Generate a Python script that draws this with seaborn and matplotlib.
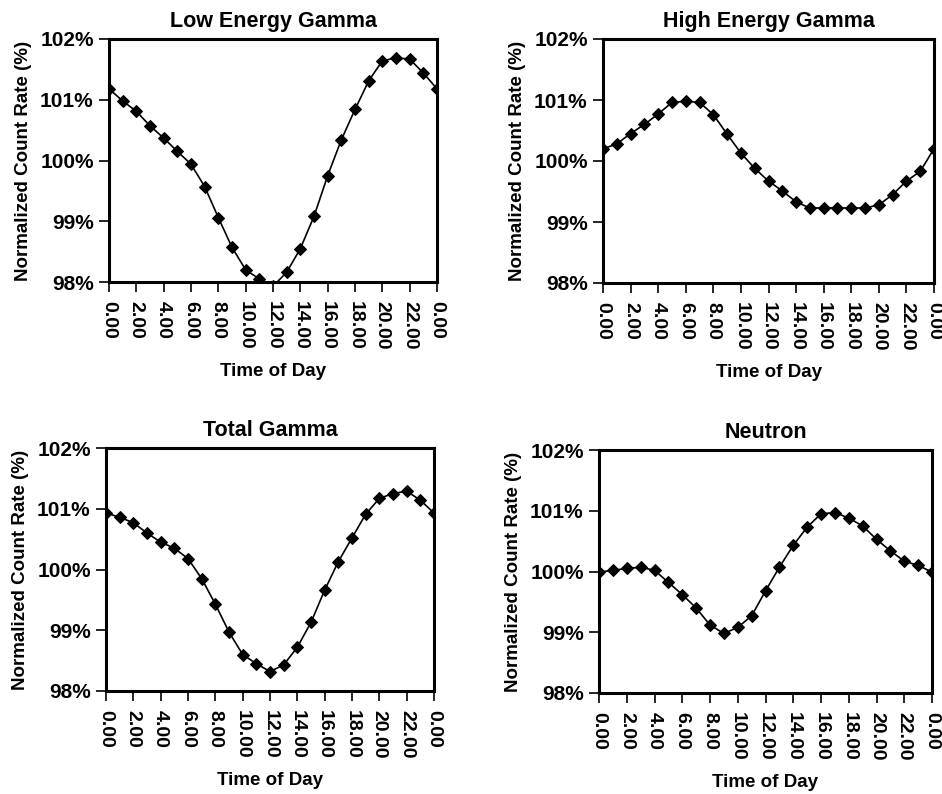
import numpy as np
import matplotlib
matplotlib.use("Agg")
import matplotlib.pyplot as plt
from matplotlib.ticker import FuncFormatter
import seaborn as sns

hours = list(range(25))
tick_hours = list(range(0, 25, 2))
tick_labels = ['0.00', '2.00', '4.00', '6.00', '8.00', '10.00', '12.00',
               '14.00', '16.00', '18.00', '20.00', '22.00', '0.00']

titles = ['Low Energy Gamma', 'High Energy Gamma', 'Total Gamma', 'Neutron']

low_gamma = [101.18, 100.98, 100.81, 100.57, 100.37, 100.15, 99.94, 99.57, 99.06,
             98.57, 98.20, 98.05, 97.93, 98.16, 98.55, 99.08, 99.75, 100.34,
             100.84, 101.31, 101.64, 101.69, 101.67, 101.44, 101.18]
high_gamma = [100.20, 100.28, 100.45, 100.60, 100.77, 100.96, 100.98, 100.96, 100.76,
              100.44, 100.13, 99.88, 99.67, 99.51, 99.33, 99.23, 99.23, 99.23,
              99.23, 99.23, 99.28, 99.45, 99.67, 99.83, 100.20]
total_gamma = [100.93, 100.86, 100.77, 100.60, 100.45, 100.35, 100.18, 99.85, 99.43,
               98.97, 98.60, 98.45, 98.32, 98.43, 98.72, 99.13, 99.66, 100.13,
               100.52, 100.91, 101.17, 101.25, 101.29, 101.14, 100.93]
neutron = [99.99, 100.02, 100.05, 100.07, 100.02, 99.82, 99.62, 99.40, 99.12,
           98.98, 99.08, 99.27, 99.68, 100.07, 100.43, 100.73, 100.95, 100.97,
           100.88, 100.75, 100.53, 100.34, 100.17, 100.10, 99.99]

series = [low_gamma, high_gamma, total_gamma, neutron]

sns.set_style("ticks")
plt.rcParams['font.family'] = ['Liberation Sans', 'DejaVu Sans']
plt.rcParams['font.weight'] = 'bold'
plt.rcParams['text.color'] = 'black'
plt.rcParams['axes.labelcolor'] = 'black'
plt.rcParams['xtick.color'] = 'black'
plt.rcParams['ytick.color'] = 'black'

W, H = 942, 794
fig = plt.figure(figsize=(W / 100, H / 100), dpi=100)

# axes boxes in pixels: left, right, top, bottom
boxes = [(109, 437, 39, 282), (603, 934, 39, 283),
         (106, 434, 448, 691), (599, 932, 450, 693)]

for box, title, vals in zip(boxes, titles, series):
    l, r, t, b = box
    ax = fig.add_axes([l / W, 1 - b / H, (r - l) / W, (b - t) / H])
    sns.lineplot(x=hours, y=vals, ax=ax, color='black', marker='D',
                 markersize=6, markeredgecolor='black', linewidth=1.2)
    ax.set_xlim(0, 24)
    ax.set_ylim(98, 102)
    ax.set_yticks([98, 99, 100, 101, 102])
    ax.yaxis.set_major_formatter(FuncFormatter(lambda v, p: f'{v:.0f}%'))
    ax.set_xticks(tick_hours)
    ax.set_xticklabels(tick_labels, rotation=270, fontsize=14, fontweight='bold')
    for lab in ax.get_yticklabels():
        lab.set_fontsize(15)
        lab.set_fontweight('bold')
    ax.tick_params(axis='both', direction='out', length=7, width=1.2, color='black')
    ax.tick_params(axis='x', pad=7)
    ax.tick_params(axis='y', pad=4)
    for sp in ax.spines.values():
        sp.set_visible(True)
        sp.set_linewidth(2.2)
        sp.set_color('black')
    ax.set_title(title, fontsize=15.5, fontweight='bold', pad=9)
    ax.set_xlabel('Time of Day', fontsize=13.5, fontweight='bold', labelpad=9)
    ax.set_ylabel('Normalized Count Rate (%)', fontsize=13.5, fontweight='bold', labelpad=6)

fig.savefig('out.png', dpi=100, facecolor='white')
